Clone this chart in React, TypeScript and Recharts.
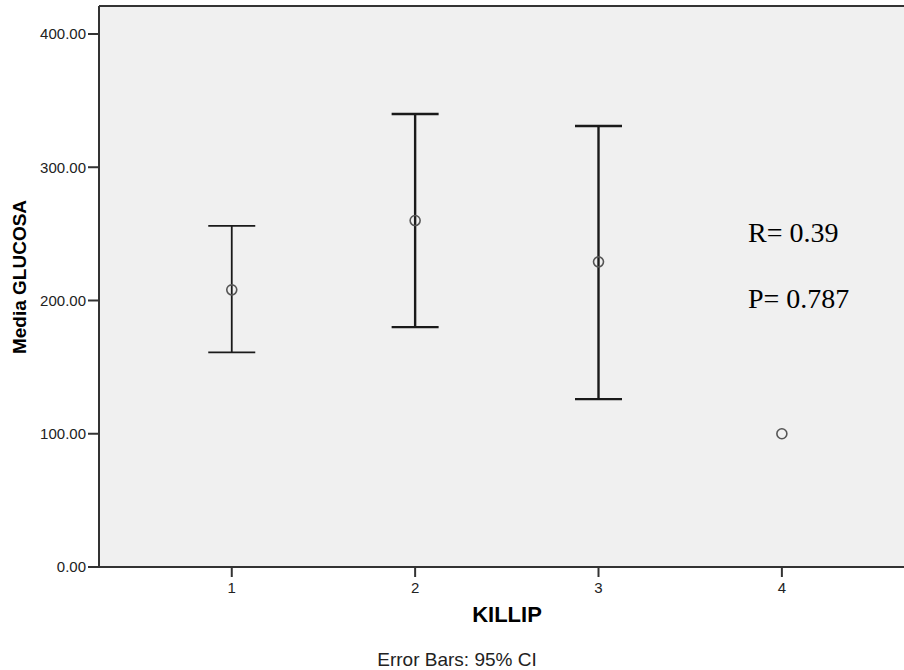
import React from 'react';
import {
  ComposedChart,
  Scatter,
  ErrorBar,
  XAxis,
  YAxis,
  CartesianGrid,
  ReferenceLine,
} from 'recharts';

// KILLIP classes (x categories)
const killip = [1, 2, 3, 4];
// Mean GLUCOSA per class
const means = [208, 260, 229, 100];
// 95% CI lower / upper bounds (class 4 has none)
const ciLow = [161, 180, 126, null];
const ciHigh = [256, 340, 331, null];

const yTicks = [0, 100, 200, 300, 400];
const xTicks = [1, 2, 3, 4];

const annotations = ['R= 0.39', 'P= 0.787'];
const footnote = 'Error Bars: 95% CI';
const xTitle = 'KILLIP';
const yTitle = 'Media GLUCOSA';

type Pt = { x: number; y: number; err: [number, number] | null };

const points: Pt[] = killip.map((k, i) => ({
  x: k,
  y: means[i],
  err:
    ciLow[i] != null && ciHigh[i] != null
      ? [means[i] - (ciLow[i] as number), (ciHigh[i] as number) - means[i]]
      : null,
}));

const thinSeries = points.filter((p) => p.x === 1);
const thickSeries = points.filter((p) => p.x === 2 || p.x === 3);
const noErrSeries = points.filter((p) => p.err == null);

const SANS = '"Liberation Sans", Arial, sans-serif';
const SERIF = '"Liberation Serif", "Times New Roman", serif';

const Hollow = (props: any) => {
  const { cx, cy } = props;
  if (cx == null || cy == null) return null;
  return <circle cx={cx} cy={cy} r={5} fill="none" stroke="#555" strokeWidth={1.6} />;
};

const YTitle = () => (
  <text
    x={19}
    y={277}
    transform="rotate(-90, 19, 277)"
    textAnchor="middle"
    dominantBaseline="central"
    fontFamily={SANS}
    fontWeight="bold"
    fontSize={19}
    fill="#000"
  >
    {yTitle}
  </text>
);

const XTitle = () => (
  <text
    x={507}
    y={622}
    textAnchor="middle"
    fontFamily={SANS}
    fontWeight="bold"
    fontSize={22}
    fill="#000"
  >
    {xTitle}
  </text>
);

export default function App() {
  return (
    <div style={{ position: 'absolute', left: 0, top: 0, width: 904, height: 670, background: '#fff' }}>
      <ComposedChart
        width={904}
        height={670}
        margin={{ top: 6, right: 0, bottom: 73, left: 0 }}
      >
        <CartesianGrid horizontal={false} vertical={false} fill="#f0f0f0" />
        <XAxis
          type="number"
          dataKey="x"
          domain={[0.276, 4.666]}
          ticks={xTicks}
          allowDataOverflow
          height={30}
          tickSize={10}
          tickMargin={5}
          axisLine={{ stroke: '#333', strokeWidth: 2 }}
          tickLine={{ stroke: '#333', strokeWidth: 2 }}
          tick={{ fill: '#222', fontSize: 15, fontFamily: SANS }}
          label={<XTitle />}
        />
        <YAxis
          type="number"
          dataKey="y"
          domain={[0, 421]}
          ticks={yTicks}
          allowDataOverflow
          width={99}
          tickSize={11}
          tickMargin={2}
          tickFormatter={(v: number) => v.toFixed(2)}
          axisLine={{ stroke: '#333', strokeWidth: 2 }}
          tickLine={{ stroke: '#333', strokeWidth: 2 }}
          tick={{ fill: '#222', fontSize: 15, fontFamily: SANS }}
          label={<YTitle />}
        />
        <ReferenceLine y={421} stroke="#333" strokeWidth={2} ifOverflow="extendDomain" />
        <Scatter data={thinSeries} shape={<Hollow />} isAnimationActive={false}>
          <ErrorBar dataKey="err" direction="y" width={23.5} stroke="#1a1a1a" strokeWidth={1.8} isAnimationActive={false} />
        </Scatter>
        <Scatter data={thickSeries} shape={<Hollow />} isAnimationActive={false}>
          <ErrorBar dataKey="err" direction="y" width={23.5} stroke="#1a1a1a" strokeWidth={2.4} isAnimationActive={false} />
        </Scatter>
        <Scatter data={noErrSeries} shape={<Hollow />} isAnimationActive={false} />
      </ComposedChart>
      <svg
        width={904}
        height={670}
        style={{ position: 'absolute', left: 0, top: 0, pointerEvents: 'none' }}
      >
        <text x={748} y={242} fontFamily={SERIF} fontSize={28} fill="#000">
          {annotations[0]}
        </text>
        <text x={748} y={308} fontFamily={SERIF} fontSize={28} fill="#000">
          {annotations[1]}
        </text>
        <text x={457} y={666} textAnchor="middle" fontFamily={SANS} fontSize={19} fill="#222">
          {footnote}
        </text>
      </svg>
    </div>
  );
}
